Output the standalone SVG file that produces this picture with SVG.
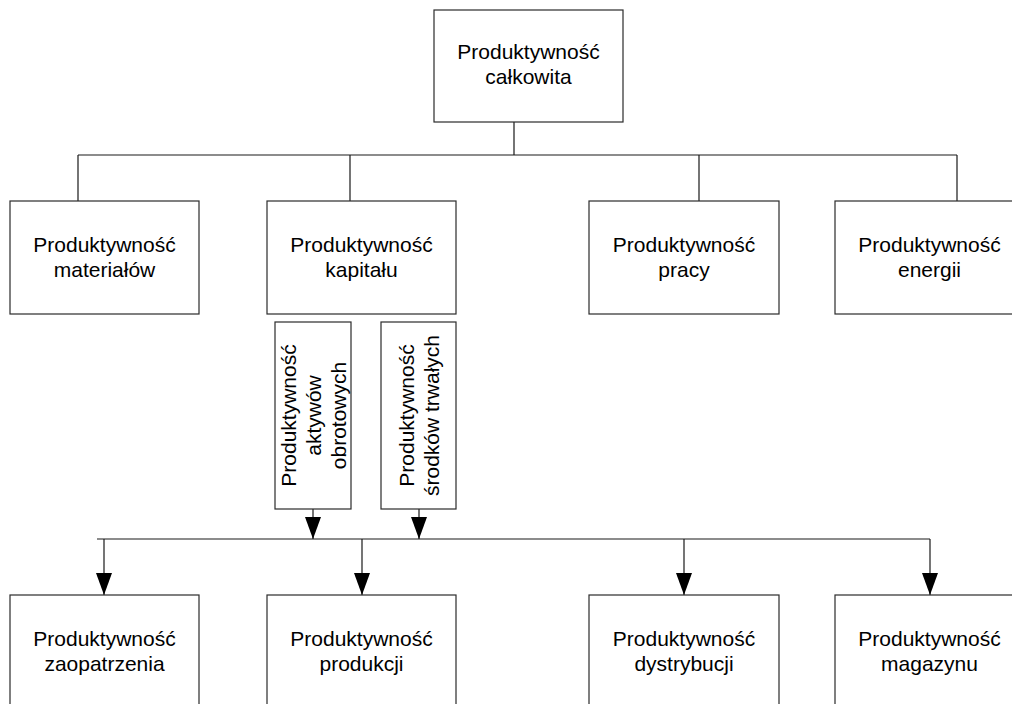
<svg xmlns="http://www.w3.org/2000/svg" width="1012" height="704" viewBox="0 0 1012 704">
  <style>
    .box { fill: #ffffff; stroke: #2b2b2b; stroke-width: 1.2; }
    .lbl { font-family: "Liberation Sans", Arial, sans-serif; font-size: 21px; fill: #000000; text-anchor: middle; }
    .ln { fill: none; stroke: #1a1a1a; stroke-width: 1.2; }
  </style>
  <defs>
    <marker id="arrow" viewBox="0 0 22 16" refX="22" refY="8" markerWidth="22" markerHeight="16" markerUnits="userSpaceOnUse" orient="auto">
      <path d="M0,0 L22,8 L0,16 z" fill="#000000"/>
    </marker>
  </defs>
  <rect width="1012" height="704" fill="#ffffff"/>

  <!-- connectors -->
  <g id="connectors">
    <!-- root to first level -->
    <path class="ln" d="M514,122 V155 M78,155 H957 M78,155 V201 M350,155 V201 M699,155 V201 M957,155 V201"/>
    <!-- capital sub-measures into the lower bus -->
    <path class="ln" d="M313,509 V539" marker-end="url(#arrow)"/>
    <path class="ln" d="M419,509 V539" marker-end="url(#arrow)"/>
    <path class="ln" d="M97,539 H930"/>
    <!-- lower bus to functional areas -->
    <path class="ln" d="M104,539 V595" marker-end="url(#arrow)"/>
    <path class="ln" d="M362,539 V595" marker-end="url(#arrow)"/>
    <path class="ln" d="M684,539 V595" marker-end="url(#arrow)"/>
    <path class="ln" d="M930,539 V595" marker-end="url(#arrow)"/>
  </g>

  <!-- root -->
  <g id="calkowita">
    <rect class="box" x="434" y="10" width="189" height="112"/>
    <text class="lbl" x="528.5" y="59">Produktywność</text>
    <text class="lbl" x="528.5" y="84">całkowita</text>
  </g>

  <!-- first level -->
  <g id="materialow">
    <rect class="box" x="10" y="201" width="189" height="113"/>
    <text class="lbl" x="104.5" y="252">Produktywność</text>
    <text class="lbl" x="104.5" y="277">materiałów</text>
  </g>
  <g id="kapitalu">
    <rect class="box" x="267" y="201" width="189" height="113"/>
    <text class="lbl" x="361.5" y="252">Produktywność</text>
    <text class="lbl" x="361.5" y="277">kapitału</text>
  </g>
  <g id="pracy">
    <rect class="box" x="589" y="201" width="190" height="113"/>
    <text class="lbl" x="684" y="252">Produktywność</text>
    <text class="lbl" x="684" y="277">pracy</text>
  </g>
  <g id="energii">
    <rect class="box" x="835" y="201" width="189" height="113"/>
    <text class="lbl" x="929.5" y="252">Produktywność</text>
    <text class="lbl" x="929.5" y="277">energii</text>
  </g>

  <!-- capital sub-measures (vertical labels) -->
  <g id="aktywow-obrotowych">
    <rect class="box" x="275" y="322" width="76" height="187"/>
    <g transform="translate(313,415.5) rotate(-90)">
      <text class="lbl" x="0" y="-17.5">Produktywność</text>
      <text class="lbl" x="0" y="7.5">aktywów</text>
      <text class="lbl" x="0" y="32.5">obrotowych</text>
    </g>
  </g>
  <g id="srodkow-trwalych">
    <rect class="box" x="381" y="322" width="75" height="187"/>
    <g transform="translate(418.5,415.5) rotate(-90)">
      <text class="lbl" x="0" y="-5">Produktywność</text>
      <text class="lbl" x="0" y="20">środków trwałych</text>
    </g>
  </g>

  <!-- functional areas -->
  <g id="zaopatrzenia">
    <rect class="box" x="10" y="595" width="189" height="113"/>
    <text class="lbl" x="104.5" y="646">Produktywność</text>
    <text class="lbl" x="104.5" y="671">zaopatrzenia</text>
  </g>
  <g id="produkcji">
    <rect class="box" x="267" y="595" width="189" height="113"/>
    <text class="lbl" x="361.5" y="646">Produktywność</text>
    <text class="lbl" x="361.5" y="671">produkcji</text>
  </g>
  <g id="dystrybucji">
    <rect class="box" x="589" y="595" width="190" height="113"/>
    <text class="lbl" x="684" y="646">Produktywność</text>
    <text class="lbl" x="684" y="671">dystrybucji</text>
  </g>
  <g id="magazynu">
    <rect class="box" x="835" y="595" width="189" height="113"/>
    <text class="lbl" x="929.5" y="646">Produktywność</text>
    <text class="lbl" x="929.5" y="671">magazynu</text>
  </g>
</svg>
